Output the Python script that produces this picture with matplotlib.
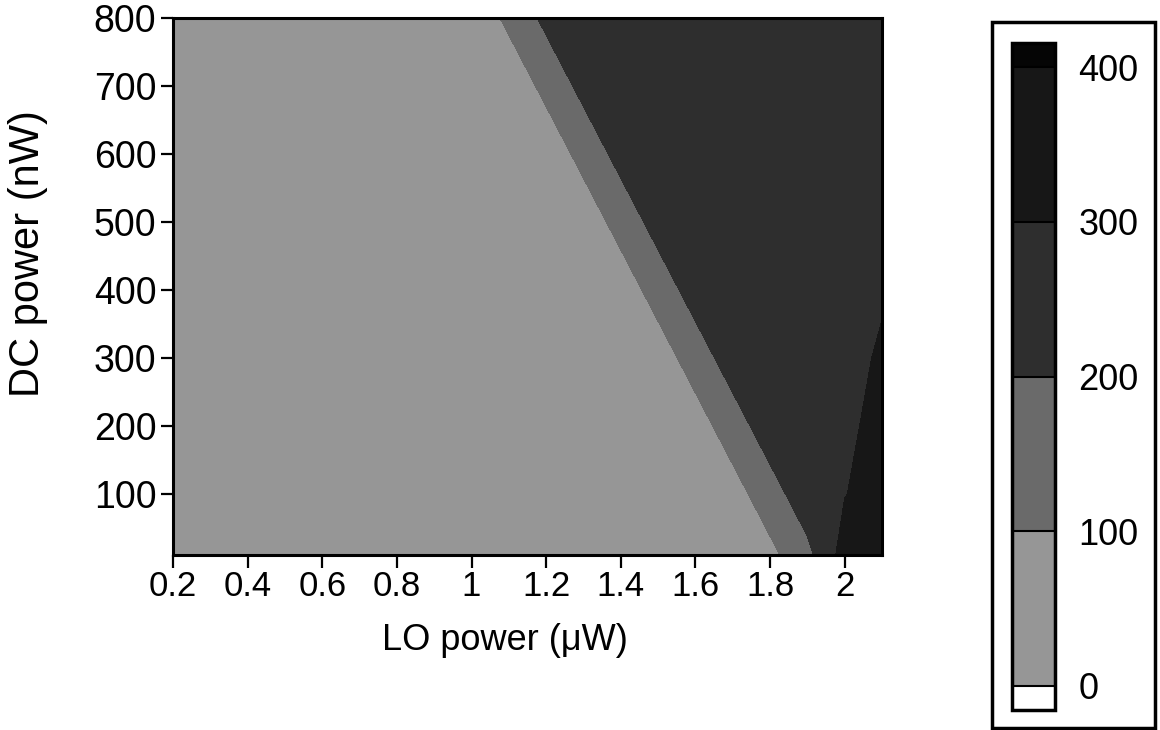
import matplotlib
matplotlib.use("Agg")
import numpy as np
import matplotlib.pyplot as plt
from matplotlib.colors import ListedColormap, BoundaryNorm
from matplotlib.patches import Rectangle

plt.rcParams["font.family"] = ["Liberation Sans", "DejaVu Sans"]

# grid: LO power (uW) columns, DC power (nW) rows
lo_power = [0.2, 0.6, 1.0, 1.1, 1.2, 1.3, 1.4, 1.5, 1.6, 1.7, 1.8, 1.9, 2.0, 2.1]
dc_power = [10, 100, 200, 300, 400, 500, 600, 700, 800]

# estimated values at each grid node (one row per DC power)
z_dc10 = [8, 11, 14, 15, 16, 17, 18, 20, 22, 26, 74, 174, 340, 390]
z_dc100 = [9, 12, 15, 16, 17, 18, 19, 21, 24, 59, 159, 259, 297, 340]
z_dc200 = [10, 13, 16, 17, 18, 19, 20, 22, 54, 154, 254, 270, 288, 318]
z_dc300 = [11, 14, 17, 18, 19, 20, 22, 49, 149, 249, 262, 274, 287, 305]
z_dc400 = [12, 15, 18, 19, 20, 21, 44, 144, 244, 256, 265, 274, 284, 296]
z_dc500 = [13, 16, 19, 20, 21, 39, 139, 239, 251, 258, 265, 272, 280, 289]
z_dc600 = [14, 17, 20, 21, 34, 134, 234, 247, 254, 260, 266, 272, 278, 285]
z_dc700 = [15, 18, 21, 29, 129, 229, 244, 251, 256, 261, 266, 271, 276, 281]
z_dc800 = [16, 19, 24, 124, 224, 240, 247, 252, 256, 260, 264, 268, 272, 276]

levels = [0, 100, 200, 300, 400]
band_colors = ["#969696", "#6a6a6a", "#2e2e2e", "#171717"]

z = np.array([z_dc10, z_dc100, z_dc200, z_dc300, z_dc400,
              z_dc500, z_dc600, z_dc700, z_dc800])

cmap = ListedColormap(band_colors)
cmap.set_under("white")
cmap.set_over("#050505")
norm = BoundaryNorm(levels, cmap.N)

fig = plt.figure(figsize=(11.6, 7.3), dpi=100)
ax = fig.add_axes([173 / 1160, 175 / 730, 709 / 1160, 537 / 730])

cs = ax.contourf(lo_power, dc_power, z, levels=levels, cmap=cmap, norm=norm,
                 extend="both")

ax.set_xlim(0.2, 2.1)
ax.set_ylim(10, 800)
ax.set_xticks([0.2, 0.4, 0.6, 0.8, 1.0, 1.2, 1.4, 1.6, 1.8, 2.0])
ax.set_xticklabels(["0.2", "0.4", "0.6", "0.8", "1", "1.2", "1.4", "1.6", "1.8", "2"])
ax.set_yticks([100, 200, 300, 400, 500, 600, 700, 800])
ax.tick_params(direction="out", length=9, width=1.6)
ax.tick_params(axis="x", labelsize=25, pad=2)
ax.tick_params(axis="y", labelsize=27, pad=3)
for s in ax.spines.values():
    s.set_linewidth(2.2)
ax.set_xlabel("LO power (\u03bcW)", fontsize=26)
ax.set_ylabel("DC power (nW)", fontsize=30)
ax.xaxis.set_label_coords(0.468, -0.126)
ax.yaxis.set_label_coords(-0.176, 0.562)

# colour bar inside its own box
cax = fig.add_axes([1012 / 1160, 20 / 730, 43 / 1160, 667 / 730])
cb = fig.colorbar(cs, cax=cax, extendrect=True, extendfrac=0.039,
                  drawedges=True, ticks=levels)
cb.outline.set_linewidth(2.5)
cb.dividers.set_color("black")
cb.dividers.set_linewidth(1.5)
cax.tick_params(length=0, labelsize=26, pad=17)
cax.set_yticklabels(["0", "100", "200", "300", "400"])

fig.add_artist(Rectangle((992 / 1160, 2 / 730), 163 / 1160, 706 / 730,
                         transform=fig.transFigure, fill=False,
                         edgecolor="black", linewidth=2.5))

fig.savefig("out.png", dpi=100)
